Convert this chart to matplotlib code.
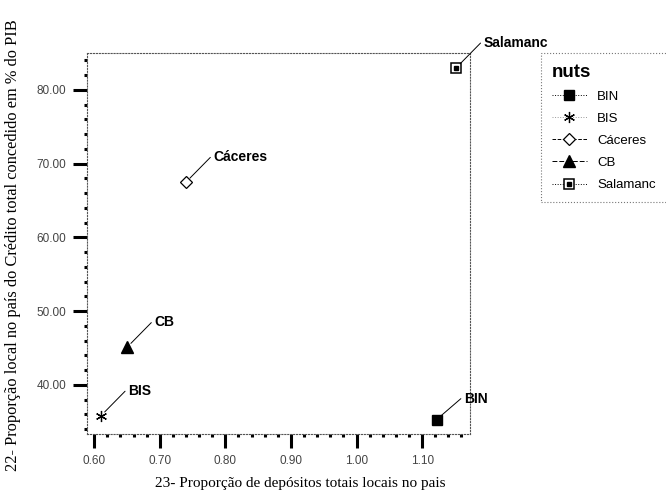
import matplotlib.pyplot as plt
from matplotlib.lines import Line2D
from matplotlib.legend_handler import HandlerTuple
from matplotlib.ticker import MultipleLocator

plt.rcParams['font.family'] = ['Liberation Sans', 'DejaVu Sans']

# data
names = ["BIN", "BIS", "Cáceres", "CB", "Salamanc"]
depositos = [1.122, 0.610, 0.740, 0.650, 1.152]
credito = [35.3, 35.8, 67.5, 45.1, 83.0]

xlabel = "23- Proporção de depósitos totais locais no pais"
ylabel = "22- Proporção local no país do Crédito total concedido em % do PIB"

fig = plt.figure(figsize=(6.66, 4.91), dpi=100)
ax = fig.add_axes([87/666, 1 - 434/491, (470-87)/666, (434-53)/491])

# markers
styles = {
    "BIN": dict(marker='s', color='black', ms=7, ls=':'),
    "BIS": dict(marker=(6, 2, 0), color='black', ms=8, ls=':', mew=0.9),
    "Cáceres": dict(marker='D', mfc='white', mec='black', ms=6, ls='--', mew=0.9),
    "CB": dict(marker='^', color='black', ms=8, ls=(0, (5, 2))),
    "Salamanc": dict(marker='s', mfc='white', mec='black', ms=6.5, ls=':', mew=1.1),
}

for n, x, y in zip(names, depositos, credito):
    st = styles[n]
    ax.plot([x], [y], marker=st['marker'], ms=st['ms'], ls='none',
            mfc=st.get('mfc', 'black'), mec=st.get('mec', 'black'),
            mew=st.get('mew', 1), clip_on=False, zorder=3)
    if n == "Salamanc":
        ax.plot([x], [y], marker='s', ms=2.2, color='black', ls='none', zorder=4)

# point labels with leader lines
offsets = {"BIN": (19.5, 16.5)}
for n, x, y in zip(names, depositos, credito):
    dx, dy = offsets.get(n, (19.5, 19.5))
    ax.annotate(n, xy=(x, y), xytext=(dx, dy - 1.5), textcoords='offset points',
                ha='left', va='center', fontsize=10, fontweight='bold',
                annotation_clip=False,
                arrowprops=dict(arrowstyle='-', lw=0.7, color='black',
                                shrinkA=0, shrinkB=4, relpos=(0, 0.68)))

ax.set_xlim(0.589, 1.173)
ax.set_ylim(33.35, 85.0)
ax.xaxis.set_major_locator(MultipleLocator(0.1))
ax.xaxis.set_minor_locator(MultipleLocator(0.02))
ax.yaxis.set_major_locator(MultipleLocator(10))
ax.yaxis.set_minor_locator(MultipleLocator(2))
ax.xaxis.set_major_formatter(plt.FormatStrFormatter('%.2f'))
ax.yaxis.set_major_formatter(plt.FormatStrFormatter('%.2f'))

ax.tick_params(which='major', length=10, width=2.2, direction='out',
               labelsize=8.5, labelcolor='#444444', pad=5)
ax.tick_params(which='minor', length=2.2, width=2.2, direction='out')

for sp in ax.spines.values():
    sp.set_linestyle(':')
    sp.set_linewidth(0.8)
    sp.set_color('#555555')

fig.text(300/666, 1 - 483/491, xlabel, ha='center', va='center',
         fontsize=11, family='Liberation Serif')
fig.text(13/666, 1 - 245/491, ylabel, ha='center', va='center', rotation=90,
         fontsize=11.8, family='Liberation Serif')

# legend
handles = []
for n in names:
    st = styles[n]
    h = Line2D([], [], marker=st['marker'], ms=st['ms'], ls=st['ls'], lw=0.7,
               color='black', mfc=st.get('mfc', 'black'),
               mec=st.get('mec', 'black'), mew=st.get('mew', 1))
    if n == "BIS":
        h.set_color('#999999')
        h.set_mec('black')
        h.set_mfc('black')
    if n == "Salamanc":
        dot = Line2D([], [], marker='s', ms=2.2, color='black', ls='none')
        h = (h, dot)
    handles.append(h)

leg = fig.legend(handles, names, loc='upper left', mode='expand',
                 bbox_to_anchor=(541/666, 0, 160/666, 1 - 53/491), fontsize=9.5,
                 title='nuts', title_fontproperties={'size': 13.5, 'weight': 'bold'},
                 alignment='left', frameon=True, fancybox=False,
                 handlelength=2.7, handletextpad=0.75, borderpad=0.8,
                 labelspacing=0.75, borderaxespad=0,
                 handler_map={tuple: HandlerTuple(ndivide=1, pad=0)})
leg.get_frame().set_linestyle(':')
leg.get_frame().set_edgecolor('#555555')
leg.get_frame().set_linewidth(0.8)

fig.savefig('out.png', dpi=100)
